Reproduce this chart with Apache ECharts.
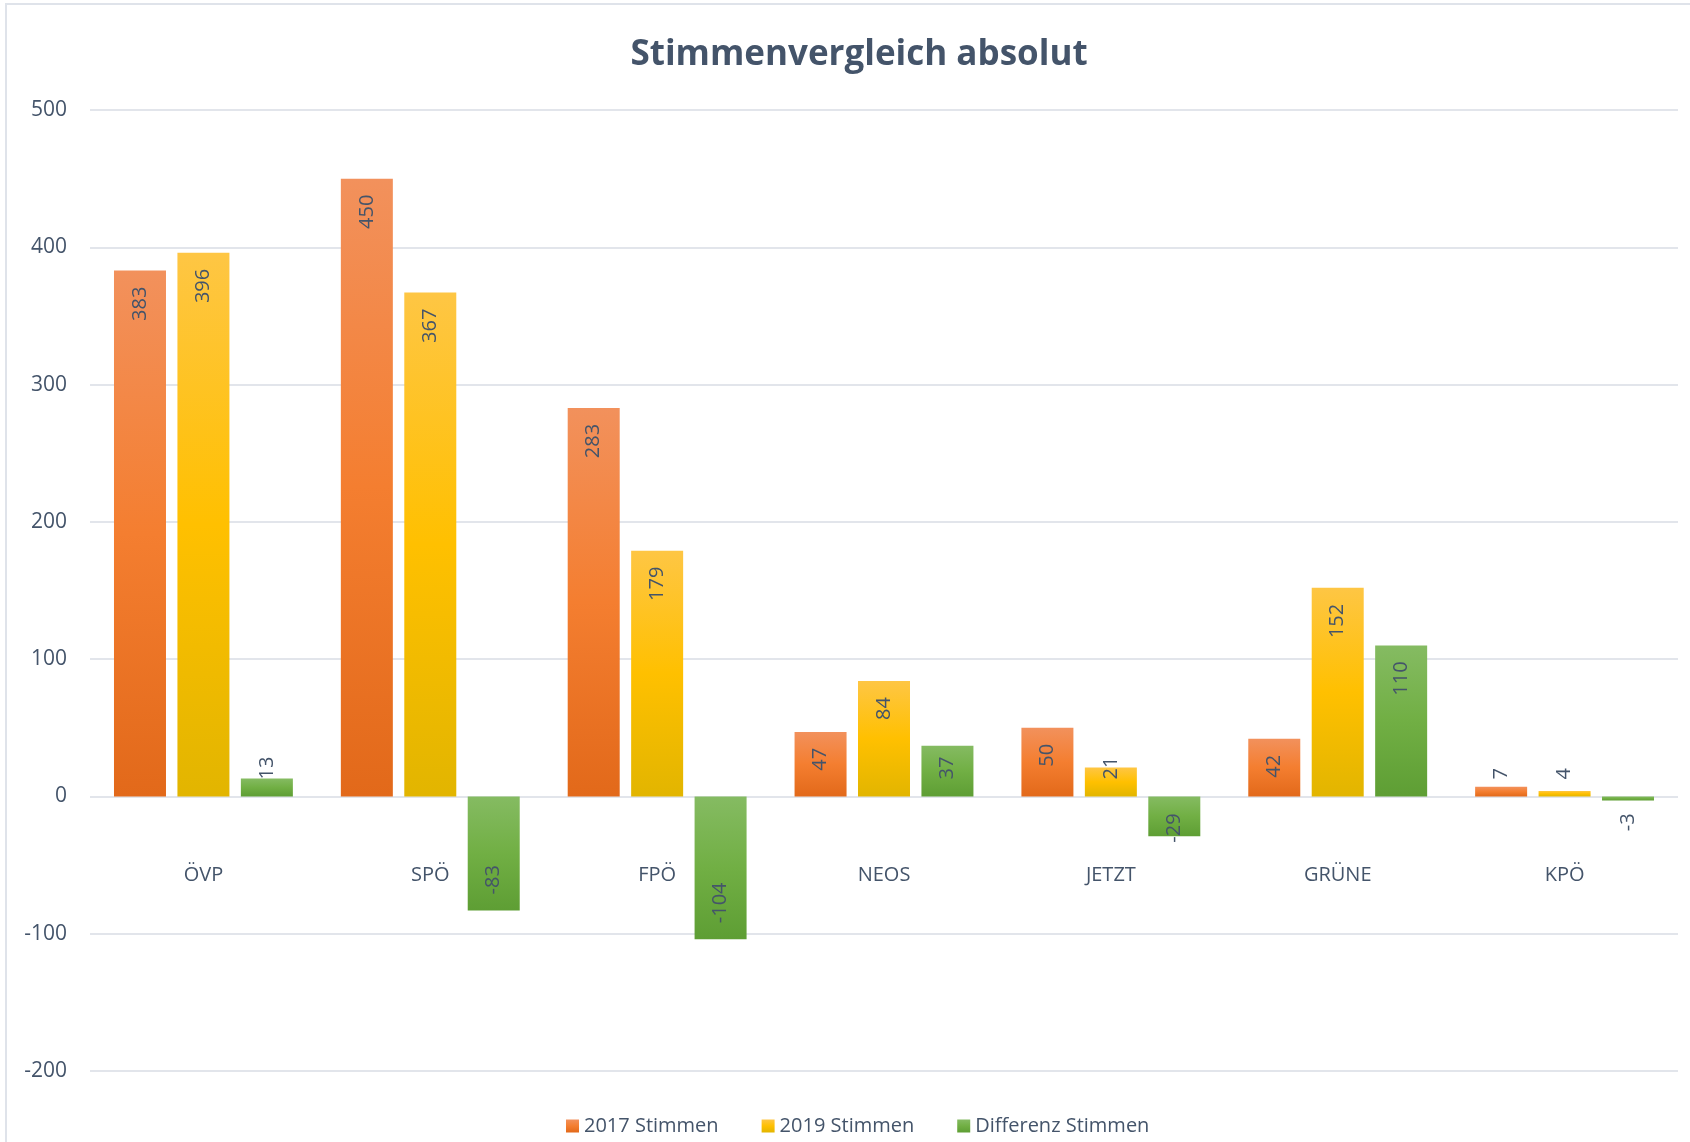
<!DOCTYPE html>
<html>
<head>
<meta charset="utf-8">
<title>Stimmenvergleich absolut</title>
<script src="https://cdn.jsdelivr.net/npm/echarts@6/dist/echarts.min.js"></script>
<style>
  html, body { margin: 0; padding: 0; background: #fff; }
  #frame {
    position: absolute; left: 5px; top: 3px;
    width: 1800px; height: 1300px;
    border: 2px solid #dfe3ea;
  }
  #chart { position: absolute; left: 0; top: 0; width: 1690px; height: 1142px; }
</style>
</head>
<body>
<div id="frame"></div>
<div id="chart"></div>
<script>
const categories = ['ÖVP', 'SPÖ', 'FPÖ', 'NEOS', 'JETZT', 'GRÜNE', 'KPÖ']
const votes2017 = [383, 450, 283, 47, 50, 42, 7]
const votes2019 = [396, 367, 179, 84, 21, 152, 4]
const difference = [13, -83, -104, 37, -29, 110, -3]
const yTicks = { min: -200, max: 500, interval: 100 }

const textColor = '#44546A'
const fontFamily = '"Open Sans", "Noto Sans", sans-serif'

function gradient(top, mid, bottom) {
  return new echarts.graphic.LinearGradient(0, 0, 0, 1, [
    { offset: 0, color: top },
    { offset: 0.5, color: mid },
    { offset: 1, color: bottom }
  ])
}

const seriesDefs = [
  { name: '2017 Stimmen', values: votes2017, color: gradient('#F2915C', '#F47E30', '#E2691A') },
  { name: '2019 Stimmen', values: votes2019, color: gradient('#FEC644', '#FFC000', '#E2B500') },
  { name: 'Differenz Stimmen', values: difference, color: gradient('#85BB62', '#71AF44', '#5E9E34') }
]

const chart = echarts.init(document.getElementById('chart'))

function buildSeries(pxPerUnit) {
  const ctx = document.createElement('canvas').getContext('2d')
  ctx.font = '20px ' + fontFamily
  return seriesDefs.map(s => ({
    name: s.name,
    type: 'bar',
    barWidth: 52,
    barGap: '22%',
    itemStyle: { color: s.color },
    data: s.values.map(v => {
      // short bars: label is pushed away from the zero line instead
      const textW = ctx.measureText(String(v)).width
      const fits = Math.abs(v) * pxPerUnit >= textW + 33
      let label
      if (v >= 0) {
        label = fits
          ? { position: 'insideTop', align: 'right', distance: 16 }
          : { position: 'insideBottom', align: 'left', distance: 17 }
      } else {
        label = fits
          ? { position: 'insideBottom', align: 'left', distance: 16 }
          : { position: 'insideTop', align: 'right', distance: 17 }
      }
      return { value: v, label: label }
    }),
    label: {
      show: true,
      rotate: 90,
      verticalAlign: 'middle',
      color: textColor,
      fontSize: 20,
      fontFamily: fontFamily
    }
  }))
}

const option = {
  animation: false,
  title: {
    text: 'Stimmenvergleich absolut',
    left: 854,
    top: 33,
    textAlign: 'center',
    textStyle: { color: textColor, fontSize: 35, fontWeight: 'bold', fontFamily: fontFamily }
  },
  legend: {
    left: 561,
    top: 1111,
    itemWidth: 13,
    itemHeight: 13,
    itemGap: 43,
    icon: 'rect',
    textStyle: { color: textColor, fontSize: 20, fontFamily: fontFamily },
    data: seriesDefs.map(s => s.name)
  },
  grid: { left: 90, right: 12, top: 110, bottom: 71, containLabel: false, outerBoundsMode: 'none' },
  xAxis: {
    type: 'category',
    data: categories,
    axisLine: { show: false, onZero: false },
    axisTick: { show: false },
    // labels sit under the zero line, not at the grid bottom
    axisLabel: { margin: -206, color: textColor, fontSize: 20, fontFamily: fontFamily }
  },
  yAxis: {
    type: 'value',
    min: yTicks.min,
    max: yTicks.max,
    interval: yTicks.interval,
    axisLine: { show: false },
    axisTick: { show: false },
    axisLabel: { margin: 23, color: textColor, fontSize: 21, fontFamily: fontFamily },
    splitLine: { lineStyle: { color: '#E2E5EB', width: 2 } }
  },
  series: buildSeries(1)
}

chart.setOption(option)
const pxPerUnit = Math.abs(chart.convertToPixel({ yAxisIndex: 0 }, 0) - chart.convertToPixel({ yAxisIndex: 0 }, 100)) / 100
chart.setOption({ series: buildSeries(pxPerUnit) })
</script>
</body>
</html>
